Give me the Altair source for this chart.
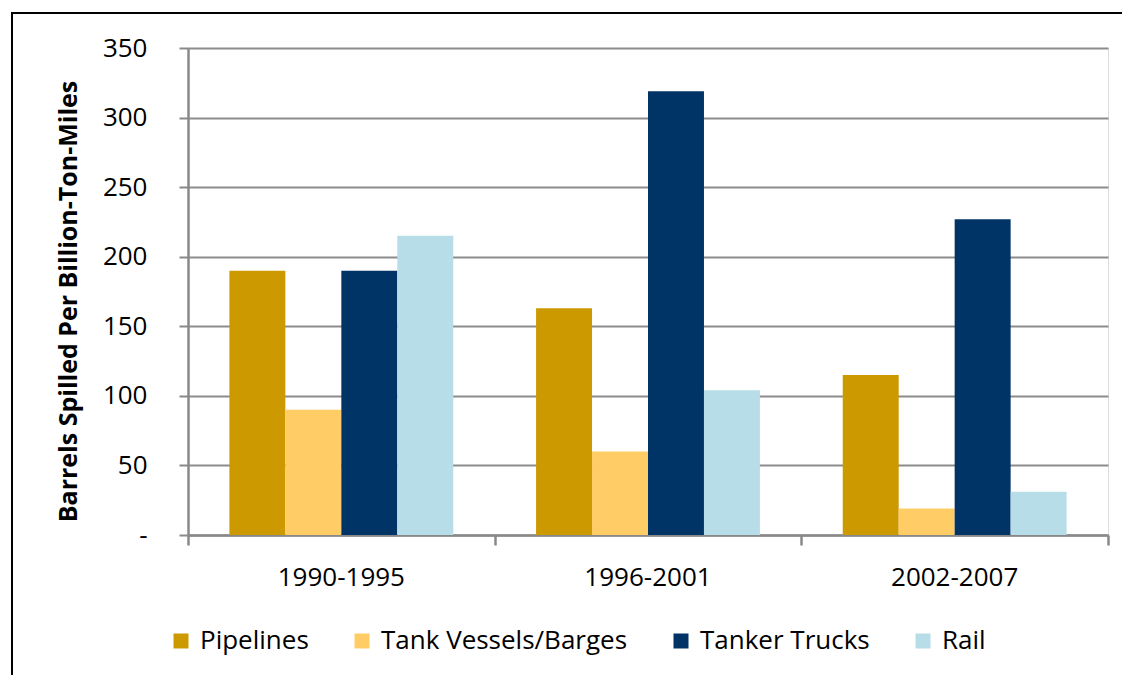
import altair as alt
import pandas as pd

periods = ["1990-1995", "1996-2001", "2002-2007"]
modes = ["Pipelines", "Tank Vessels/Barges", "Tanker Trucks", "Rail"]
pipelines = [190, 163, 115]
tank_vessels = [90, 60, 19]
tanker_trucks = [190, 319, 227]
rail = [215, 104, 31]
colors = ["#CC9900", "#FFCC66", "#003366", "#B7DDE8"]
y_ticks = [0, 50, 100, 150, 200, 250, 300, 350]

rows = []
for i, p in enumerate(periods):
    for m, vals in zip(modes, [pipelines, tank_vessels, tanker_trucks, rail]):
        rows.append({"period": p, "mode": m, "value": vals[i]})
df = pd.DataFrame(rows)

FONT = "Open Sans"
AXIS_GRAY = "#898989"

y_enc = alt.Y(
    "value:Q", title="Barrels Spilled Per Billion-Ton-Miles",
    scale=alt.Scale(domain=[0, 350], nice=False),
    axis=alt.Axis(
        values=y_ticks, labelFontSize=26, labelFont=FONT, labelColor="black",
        labelExpr="datum.value == 0 ? '-\u00a0\u00a0' : datum.label",
        labelPadding=32, tickSize=9, tickColor=AXIS_GRAY, tickWidth=2,
        domainColor=AXIS_GRAY, domainWidth=2.5,
        grid=True, gridColor="#8c8c8c", gridWidth=2,
        titleFont=FONT, titleFontSize=25, titleFontWeight="bold", titleColor="black",
        titlePadding=21, titleY=253,
    ),
)

bars = alt.Chart(df).mark_bar().encode(
    x=alt.X(
        "period:N", sort=periods, title=None,
        scale=alt.Scale(paddingInner=0.27, paddingOuter=0.135),
        axis=alt.Axis(
            orient="bottom",
            labelAngle=0, labelFontSize=26, labelFont=FONT, labelColor="black",
            domainColor=AXIS_GRAY, domainWidth=2.5, ticks=False,
            labelPadding=29, grid=False,
        ),
    ),
    xOffset=alt.XOffset("mode:N", sort=modes, scale=alt.Scale(paddingInner=0, paddingOuter=0)),
    y=y_enc,
    color=alt.Color(
        "mode:N", sort=modes,
        scale=alt.Scale(domain=modes, range=colors),
        legend=alt.Legend(
            title=None, orient="none", legendX=-20, legendY=580, direction="horizontal",
            symbolType="square", symbolSize=225, symbolStrokeWidth=0,
            labelFontSize=26, labelFont=FONT, labelColor="black",
            columnPadding=40, labelOffset=6, labelLimit=400,
        ),
    ),
)

# tick-only axis with band extents at the category step boundaries
ticks = alt.Chart(df).mark_point(opacity=0).encode(
    x=alt.X(
        "period:N", sort=periods, title=None,
        scale=alt.Scale(paddingInner=0, paddingOuter=0),
        axis=alt.Axis(
            orient="bottom", labels=False, domain=False, grid=False,
            tickBand="extent", tickColor=AXIS_GRAY, tickWidth=2.5, tickSize=10,
        ),
    ),
)

frame = alt.Chart(alt.Data(values=[{"f": 1}])).mark_rect(
    fillOpacity=0, stroke="black", strokeWidth=2
).encode(
    x=alt.value(-176), x2=alt.value(1100), y=alt.value(-35), y2=alt.value(800)
)

chart = alt.layer(bars, ticks, frame).resolve_scale(x="independent").resolve_axis(x="independent").properties(
    width=920, height=487,
    padding={"left": 180, "top": 40, "right": 14, "bottom": 140},
    autosize=alt.AutoSizeParams(type="none"),
).configure_view(strokeWidth=0).configure(font=FONT)

chart.save("out.html", embed_options={"renderer": "svg", "actions": False})
